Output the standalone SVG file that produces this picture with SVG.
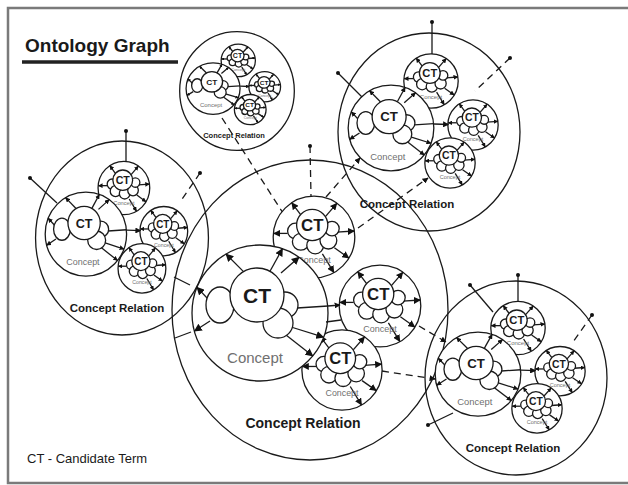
<svg xmlns="http://www.w3.org/2000/svg" width="628" height="485" viewBox="0 0 628 485">
<style>
.ln{fill:none;stroke:#1a1a1a;stroke-width:1.3;vector-effect:non-scaling-stroke}
.wf{fill:#fff;stroke:#1a1a1a;stroke-width:1.3;vector-effect:non-scaling-stroke}
.ar{marker-end:url(#tri)}
.as{marker-end:url(#triS)}
.ak{marker-end:url(#triK)}
.dt{marker-start:url(#dot)}
.ds{stroke-dasharray:7 5}
.ct{font-family:"Liberation Sans",Arial,sans-serif;font-weight:bold;fill:#1a1a1a;text-anchor:middle}
.cp{font-family:"Liberation Sans",Arial,sans-serif;fill:#707070;text-anchor:middle}
.lb{font-family:"Liberation Sans",Arial,sans-serif;font-weight:bold;fill:#1a1a1a;text-anchor:middle}
.tx{font-family:"Liberation Sans",Arial,sans-serif;fill:#1a1a1a}
.fr{fill:none;stroke:#7a7a7a;stroke-width:2.5}
</style>
<defs>
<marker id="tri" viewBox="0 0 10 10" refX="9" refY="5" markerWidth="8" markerHeight="8" markerUnits="userSpaceOnUse" orient="auto"><path d="M0,0L10,5L0,10z" fill="#111"/></marker>
<marker id="triS" viewBox="0 0 10 10" refX="9" refY="5" markerWidth="12" markerHeight="12" markerUnits="userSpaceOnUse" orient="auto"><path d="M0,0L10,5L0,10z" fill="#111"/></marker>
<marker id="triK" viewBox="0 0 10 10" refX="9" refY="5" markerWidth="6" markerHeight="6" markerUnits="userSpaceOnUse" orient="auto"><path d="M0,0L10,5L0,10z" fill="#111"/></marker>
<marker id="dot" viewBox="0 0 10 10" refX="5" refY="5" markerWidth="5" markerHeight="5" markerUnits="userSpaceOnUse"><circle cx="5" cy="5" r="4" fill="#111"/></marker>
<g id="cL">
<circle r="68" class="wf"/>
<path class="ln ar" d="M-16.5,-41.4L-34,-59"/>
<path class="ln ar" d="M10,-41.7L22.4,-64.2"/>
<path class="ln ar" d="M21,-40L39,-55.8"/>
<path class="ln ar" d="M-52,-14L-63,-25.6"/>
<path class="ln ar" d="M-50,8L-65.5,18"/>
<path class="ln" d="M37,-5L68,-7"/>
<path class="ln ar" d="M31,14L63.5,24.2"/>
<path class="ln ar" d="M26,22L52.8,42.9"/>
<ellipse cx="-40" cy="-8" rx="14" ry="18" class="wf"/>
<circle cx="25" cy="-8" r="13" class="wf"/>
<circle cx="18" cy="10" r="15" class="wf"/>
<circle cx="-3" cy="-18" r="27" class="wf"/>
<text x="-3" y="-10.5" class="ct" font-size="21">CT</text>
<text x="-5" y="50" class="cp" font-size="15">Concept</text>
</g>
<g id="cS">
<circle r="68" class="wf"/>
<path class="ln as" d="M-22,-37L-37,-57"/>
<path class="ln as" d="M19,-34L38,-56"/>
<path class="ln as" d="M38,-8L67,-10"/>
<path class="ln as" d="M34,18L58,35"/>
<path class="ln as" d="M14,28L33,59"/>
<path class="ln as" d="M-44,-6L-67,-6"/>
<circle cx="-31" cy="-10" r="13" class="wf"/>
<circle cx="-22" cy="8" r="14" class="wf"/>
<circle cx="2" cy="14" r="14" class="wf"/>
<circle cx="24" cy="6" r="14" class="wf"/>
<circle cx="30" cy="-14" r="12" class="wf"/>
<circle cx="-3" cy="-20" r="26" class="wf"/>
<text x="-3" y="-10" class="ct" font-size="28">CT</text>
<text x="0" y="44" class="cp" font-size="15">Concept</text>
</g>
<g id="sat">
<ellipse rx="91" ry="99" class="ln"/>
<use href="#cS" transform="translate(2,-51) scale(0.4)"/>
<use href="#cS" transform="translate(44,-7) scale(0.37)"/>
<use href="#cS" transform="translate(21,31) scale(0.37)"/>
<use href="#cL" transform="translate(-38,-4) scale(0.63)"/>
<path class="ln ak" d="M5,-8L19.5,-7.5"/>
</g>
</defs>
<rect width="628" height="485" fill="#fff"/>
<path class="fr" d="M628,8H8V483H628"/>
<g id="title">
<text x="25" y="52" class="tx" font-size="19" font-weight="bold">Ontology Graph</text>
<path d="M22,62H178" stroke="#222" stroke-width="3.5"/>
</g>
<g id="connectors">
<path class="ln ds" d="M222,118L283,213"/>
<path class="ln ds ak" d="M326,197L360,158"/>
<path class="ln ds ak" d="M358,228L428,178"/>
<path class="ln ds ak" d="M419,326L446,342"/>
<path class="ln ds ak" d="M382,371L435,379"/>
<path class="ln ds dt" d="M310,146L311,196"/>
</g>
<g id="cluster-left">
<use href="#sat" transform="translate(122,238) scale(0.95,0.98)"/>
<path class="ln dt" d="M126,131L126,162"/>
<path class="ln dt" d="M30,178L57,203"/>
<path class="ln ds dt" d="M200,173L180,202"/>
<text x="117" y="312" class="lb" font-size="11.5">Concept Relation</text>
</g>
<g id="cluster-top-small">
<use href="#sat" transform="translate(237,91) scale(0.63,0.6)"/>
<text x="234" y="138" class="lb" font-size="7.5">Concept Relation</text>
</g>
<g id="cluster-top-right">
<use href="#sat" transform="translate(429,132)"/>
<path class="ln dt" d="M432,22L432,54"/>
<path class="ln dt" d="M338,73L362,97"/>
<path class="ln ds dt" d="M510,58L475,91"/>
<text x="407" y="208" class="lb" font-size="11.5">Concept Relation</text>
</g>
<g id="cluster-central">
<ellipse cx="310" cy="310" rx="138" ry="150" class="ln"/>
<use href="#cS" transform="translate(380,306) scale(0.6)"/>
<use href="#cS" transform="translate(342,370) scale(0.59)"/>
<use href="#cS" transform="translate(314,237) scale(0.6)"/>
<use href="#cL" transform="translate(260,313)"/>
<path class="ln ak" d="M328,306L340,305"/>
<path class="ln" d="M326,322L341,320"/>
<path class="ln" d="M190,285L174,277"/>
<path class="ln" d="M191,332L175,338"/>
<text x="303" y="428" class="lb" font-size="14">Concept Relation</text>
</g>
<g id="cluster-bottom-right">
<use href="#sat" transform="translate(516,378) scale(1,0.98)"/>
<path class="ln dt" d="M518,275L518,301"/>
<path class="ln dt" d="M470,285L493,312"/>
<path class="ln ds dt" d="M592,315L573,342"/>
<path class="ln dt" d="M428,425L453,413"/>
<text x="513" y="452" class="lb" font-size="11.5">Concept Relation</text>
</g>
<g id="legend">
<text x="27" y="463" class="tx" font-size="13">CT - Candidate Term</text>
</g>
</svg>
